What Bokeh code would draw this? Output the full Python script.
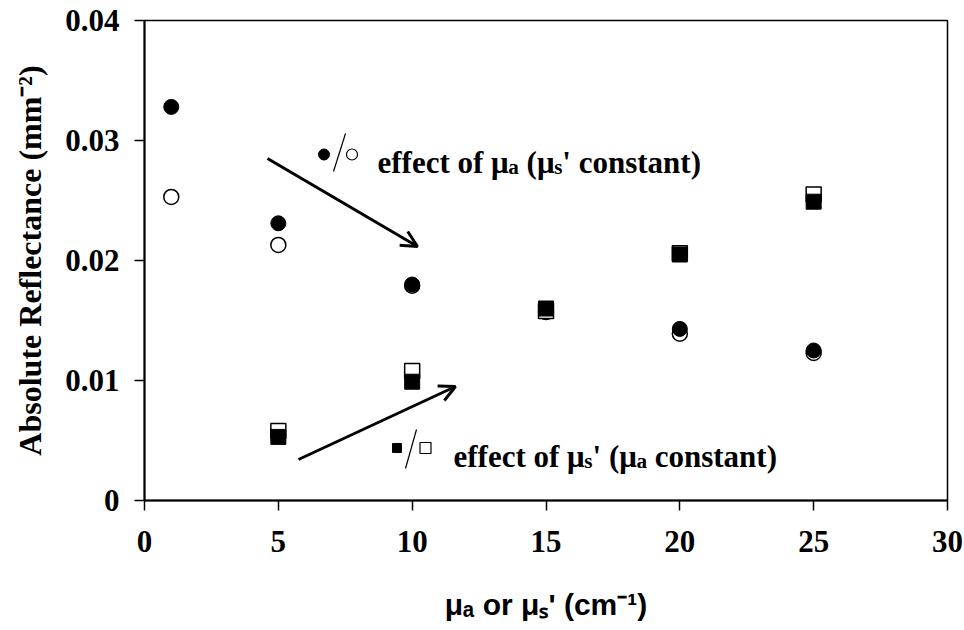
import math
from bokeh.plotting import figure
from bokeh.models import Label, Arrow, OpenHead, FixedTicker, Range1d
from bokeh.embed import file_html
from bokeh.resources import INLINE

# ---------------- data ----------------
x_mua = [1, 5, 10, 15, 20, 25]
r_mua_filled = [0.0328, 0.0231, 0.0180, 0.0159, 0.0143, 0.0125]
r_mua_open = [0.0253, 0.0213, 0.0179, 0.0157, 0.0139, 0.0123]

x_mus = [5, 10, 15, 20, 25]
r_mus_filled = [0.0053, 0.0099, 0.0160, 0.0205, 0.0249]
r_mus_open = [0.0058, 0.0108, 0.0158, 0.0206, 0.0255]

x_ticks = [0, 5, 10, 15, 20, 25, 30]
x_tick_labels = ["0", "5", "10", "15", "20", "25", "30"]
y_ticks = [0, 0.01, 0.02, 0.03, 0.04]
y_tick_labels = ["0", "0.01", "0.02", "0.03", "0.04"]

x_title = "μₐ or μₛ' (cm⁻¹)"
y_title = "Absolute Reflectance (mm⁻²)"

X0, X1 = 0, 30
Y0, Y1 = 0, 0.04

# ---------------- layout (page pixels) ----------------
W, H = 964, 630
PFL, PFR, PFT, PFB = 144, 947, 20, 500   # frame edges in page px


def xd(px):
    return X0 + (px - PFL) / (PFR - PFL) * (X1 - X0)


def yd(py):
    return Y0 + (PFB - py) / (PFB - PFT) * (Y1 - Y0)


p = figure(width=W, height=H, x_range=Range1d(X0, X1), y_range=Range1d(Y0, Y1),
           output_backend="svg", toolbar_location=None,
           min_border_left=PFL, min_border_right=W - PFR,
           min_border_top=PFT, min_border_bottom=H - PFB)
p.background_fill_color = "white"
p.border_fill_color = "white"
p.xgrid.visible = False
p.ygrid.visible = False
p.outline_line_color = "black"
p.outline_line_width = 1.5

for ax in (p.xaxis[0], p.yaxis[0]):
    ax.axis_line_width = 2
    ax.axis_line_color = "black"
    ax.major_tick_line_width = 1.5
    ax.major_tick_line_color = "black"
    ax.major_tick_out = 10
    ax.major_tick_in = 0
    ax.minor_tick_out = 0
    ax.minor_tick_in = 0
    ax.major_label_text_font = "Liberation Serif"
    ax.major_label_text_font_style = "bold"
    ax.major_label_text_font_size = "31px"
    ax.major_label_text_color = "black"
    ax.axis_label_text_font_style = "bold"
    ax.axis_label_text_color = "black"

p.xaxis.ticker = FixedTicker(ticks=x_ticks)
p.xaxis.major_label_overrides = {t: l for t, l in zip(x_ticks, x_tick_labels)}
p.xaxis.major_label_standoff = 20
p.xaxis.axis_label = x_title
p.xaxis.axis_label_text_font = "Liberation Sans"
p.xaxis.axis_label_text_font_size = "30px"
p.xaxis.axis_label_standoff = 33

p.yaxis.ticker = FixedTicker(ticks=y_ticks)
p.yaxis.major_label_overrides = {t: l for t, l in zip(y_ticks, y_tick_labels)}
p.yaxis.major_label_standoff = 15
p.yaxis.axis_label = y_title
p.yaxis.axis_label_text_font = "Liberation Serif"
p.yaxis.axis_label_text_font_size = "32px"
p.yaxis.axis_label_standoff = 14

# ---------------- markers ----------------
p.scatter(x_mua, r_mua_open, marker="circle", size=15, fill_color="white",
          line_color="black", line_width=1.5)
p.scatter(x_mua, r_mua_filled, marker="circle", size=15, fill_color="black",
          line_color="black", line_width=1)
p.scatter(x_mus, r_mus_open, marker="square", size=15, fill_color="white",
          line_color="black", line_width=1.5)
p.scatter(x_mus, r_mus_filled, marker="square", size=15, fill_color="black",
          line_color="black", line_width=1)

# ---------------- arrows ----------------
p.add_layout(Arrow(end=OpenHead(size=16, line_width=3, line_color="black"),
                   x_start=xd(267), y_start=yd(158), x_end=xd(417), y_end=yd(246),
                   line_width=3, line_color="black"))
p.add_layout(Arrow(end=OpenHead(size=16, line_width=3, line_color="black"),
                   x_start=xd(298), y_start=yd(459), x_end=xd(455), y_end=yd(386),
                   line_width=3, line_color="black"))

# ---------------- key symbols ----------------
p.scatter([xd(323.5)], [yd(154)], marker="circle", size=11, fill_color="black", line_color="black")
p.scatter([xd(351.5)], [yd(154)], marker="circle", size=11, fill_color="white",
          line_color="black", line_width=1.2)
p.segment(x0=[xd(333)], y0=[yd(171)], x1=[xd(345)], y1=[yd(133)], line_color="black", line_width=1.2)

p.scatter([xd(396.5)], [yd(447.5)], marker="square", size=9, fill_color="black", line_color="black")
p.scatter([xd(425)], [yd(447.5)], marker="square", size=11, fill_color="white",
          line_color="black", line_width=1.2)
p.segment(x0=[xd(405)], y0=[yd(468)], x1=[xd(416)], y1=[yd(429)], line_color="black", line_width=1.2)

# ---------------- rich text helper ----------------
SERIF_W = {' ': 250, '(': 333, ')': 333, '-': 333, '.': 250, "'": 278, 'A': 722, 'R': 722,
           'a': 500, 'b': 556, 'c': 444, 'e': 444, 'f': 333, 'l': 278, 'm': 833, 'n': 556,
           'o': 500, 's': 389, 't': 333, 'u': 556, '2': 500, 'μ': 556}


def rich(pieces, x_px, y_px, size, font, widths):
    pos = 0.0
    for txt, kind in pieces:
        s = size * 0.68 if kind in ("sub", "sup") else size
        shift = {"n": 0.0, "sub": -0.16 * size, "sup": 0.38 * size}[kind]
        stripped = txt.lstrip(" ")
        pos += (len(txt) - len(stripped)) * widths[' '] / 1000 * s
        if stripped:
            p.add_layout(Label(x=xd(x_px + pos), y=yd(y_px - shift), text=stripped,
                               text_font=font, text_font_size=f"{s:.1f}px",
                               text_font_style="bold", text_color="black",
                               text_align="left", text_baseline="alphabetic"))
        pos += sum(widths.get(c, 500) for c in stripped) / 1000 * s


rich([("effect of μ", "n"), ("a", "sub"), (" (μ", "n"), ("s", "sub"), ("' constant)", "n")],
     377, 162, 31, "Liberation Serif", SERIF_W)
rich([("effect of μ", "n"), ("s", "sub"), ("' (μ", "n"), ("a", "sub"), (" constant)", "n")],
     453, 456, 31, "Liberation Serif", SERIF_W)

open("out.html", "w").write(file_html(p, INLINE))
